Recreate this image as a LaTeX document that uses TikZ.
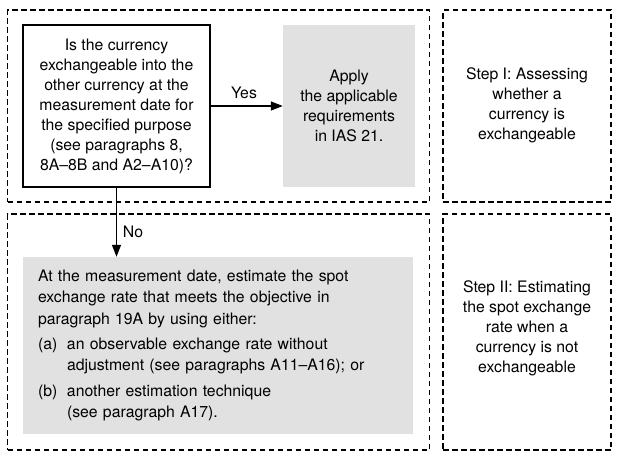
\documentclass[tikz,border=0pt]{standalone}
\usepackage{fontspec}
\setmainfont{TeX Gyre Heros}
\usetikzlibrary{arrows.meta}
\definecolor{boxgray}{RGB}{225,225,225}
\tikzset{
  stepframe/.style={draw, dashed, dash pattern=on 5.5pt off 3.5pt, line width=1.4pt, inner sep=0pt},
  question/.style={draw, line width=1.4pt, inner sep=0pt, align=center},
  action/.style={fill=boxgray, inner sep=0pt, align=center},
  txt/.style={inner sep=0pt, align=center},
  arr/.style={line width=1.3pt, -{Triangle[length=12pt,width=9pt]}},
}
\begin{document}
\begin{tikzpicture}[x=1pt,y=-1pt,font=\fontsize{15.8}{20}\selectfont]
\useasboundingbox (0,0) rectangle (620,461);

% four dashed step frames
\node[stepframe, minimum width=422pt, minimum height=192pt] (frameA) at (218.5,106) {};
\node[stepframe, minimum width=168pt, minimum height=192pt] (frameB) at (527,106) {};
\node[stepframe, minimum width=422pt, minimum height=236pt] (frameC) at (218.5,332) {};
\node[stepframe, minimum width=168pt, minimum height=236pt] (frameD) at (527,332) {};

% step captions
\node[txt] (stepI) at (527,105) {Step I: Assessing\\whether a\\currency is\\exchangeable};
\node[txt] (stepII) at (527,328) {Step II: Estimating\\the spot exchange\\rate when a\\currency is not\\exchangeable};

% decision
\node[question, minimum width=187pt, minimum height=162pt] (q) at (116.5,106)
  {Is the currency\\exchangeable into the\\other currency at the\\measurement date for\\the specified purpose\\(see paragraphs 8,\\8A--8B and A2--A10)?};

% outcome when exchangeable
\node[action, minimum width=132pt, minimum height=162pt] (apply) at (349,106)
  {Apply\\the applicable\\requirements\\in IAS 21.};

% outcome when not exchangeable
\node[action, minimum width=390pt, minimum height=177pt, text width=360pt, inner xsep=15pt, align=left,
      font=\fontsize{15.8}{21.3}\selectfont] (est) at (218,345.5)
  {At the measurement date, estimate the spot\\
   exchange rate that meets the objective in\\
   paragraph 19A by using either:\\[4pt]
   \makebox[29pt][l]{(a)}an observable exchange rate without\\
   \hspace*{29pt}adjustment (see paragraphs A11--A16); or\\[4pt]
   \makebox[29pt][l]{(b)}another estimation technique\\
   \hspace*{29pt}(see paragraph A17).};

% connectors
\draw[arr] (q.east) -- (apply.west);
\node[txt] (yes) at (244,93) {Yes};
\draw[arr] (q.south) -- (q.south |- est.north);
\node[txt] (no) at (133,232) {No};
\end{tikzpicture}
\end{document}
